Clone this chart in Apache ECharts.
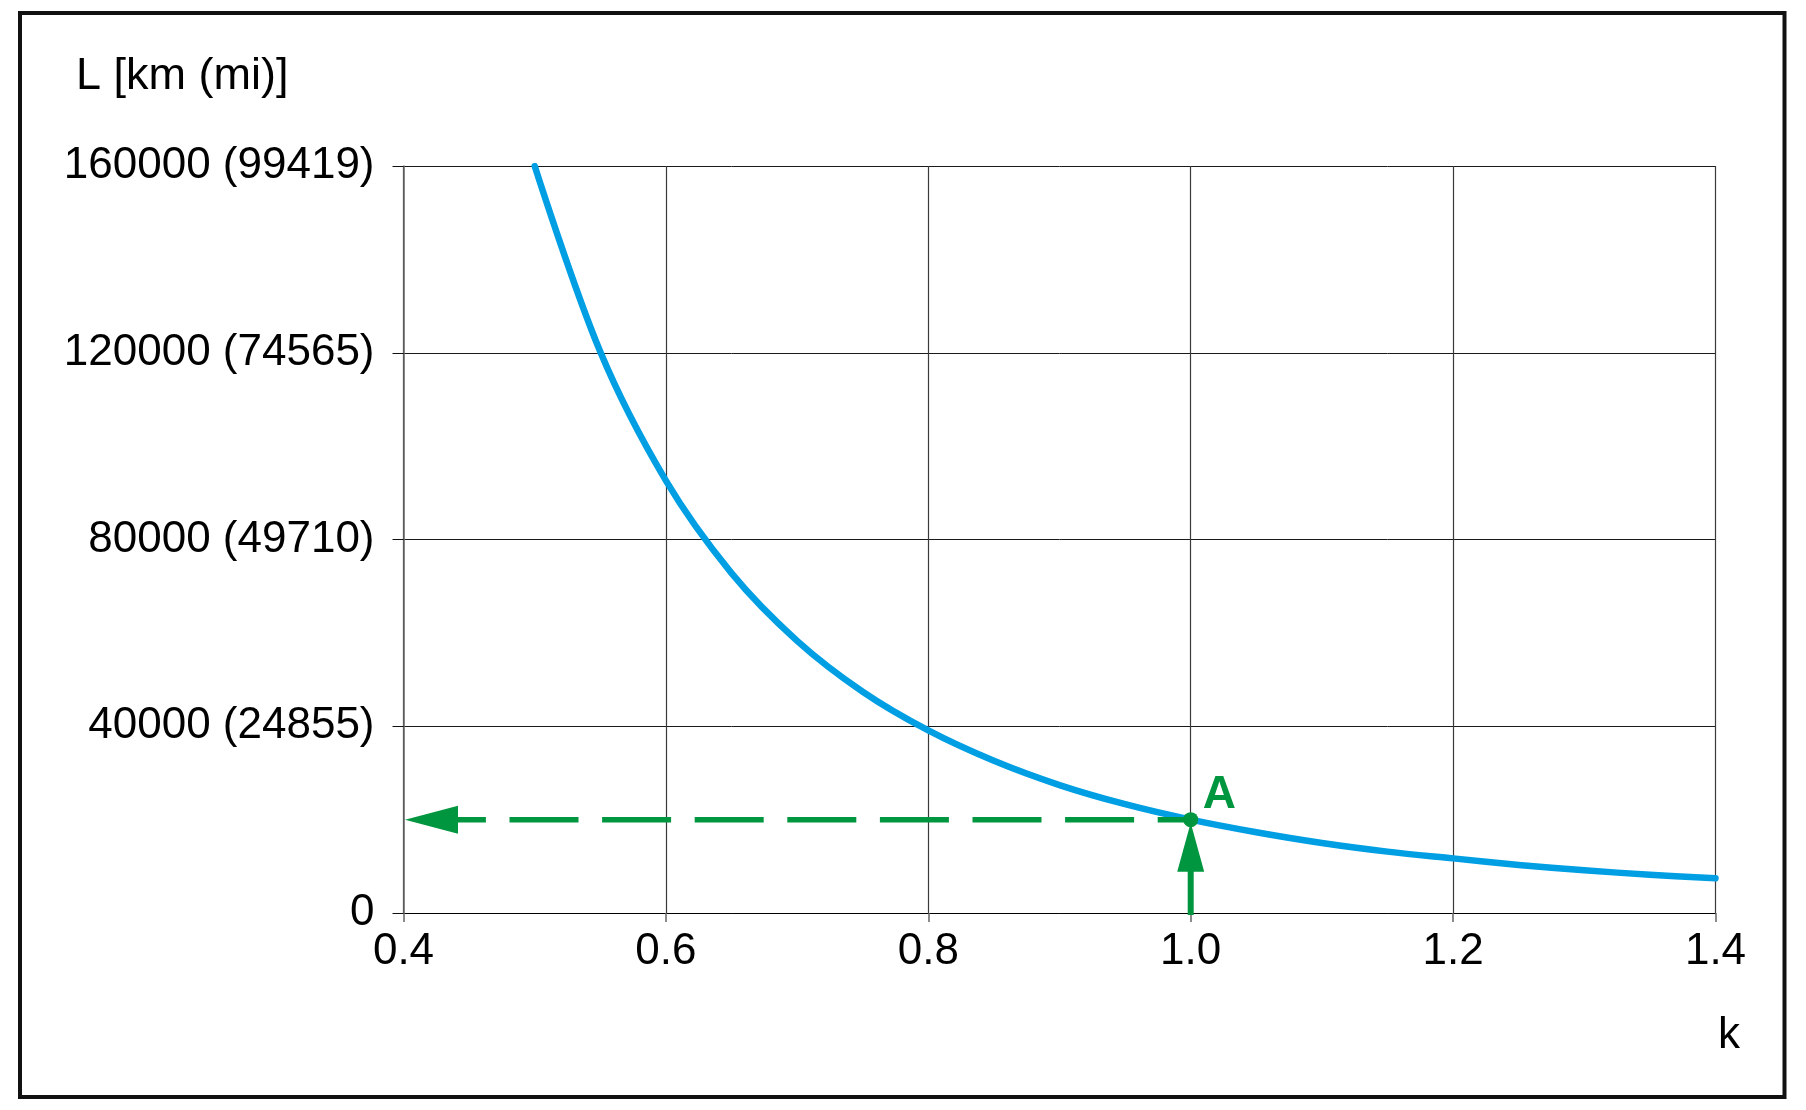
<!DOCTYPE html>
<html>
<head>
<meta charset="utf-8">
<script src="https://cdn.jsdelivr.net/npm/echarts@6/dist/echarts.min.js"></script>
<style>
  html, body { margin: 0; padding: 0; background: #ffffff; }
  #chart { width: 1806px; height: 1110px; }
</style>
</head>
<body>
<div id="chart"></div>
<script>
// ---- data ----
const kValues = [0.50, 0.55, 0.60, 0.65, 0.70, 0.75, 0.80, 0.85, 0.90, 0.95, 1.00,
                 1.05, 1.10, 1.15, 1.20, 1.25, 1.30, 1.35, 1.40];
const lValues = [160000, 120200, 92600, 72800, 58300, 47400, 39100, 32600, 27400, 23300, 20000,
                 17300, 15000, 13150, 11700, 10300, 9150, 8200, 7450];
const xTickLabels = ['0.4', '0.6', '0.8', '1.0', '1.2', '1.4'];
const yTickValues = [0, 40000, 80000, 120000, 160000];
const yTickLabels = ['0', '40000 (24855)', '80000 (49710)', '120000 (74565)', '160000 (99419)'];
const pointK = [1.0];
const pointL = [20000];
const pointName = ['A'];
const xAxisName = 'k';
const yAxisName = 'L [km (mi)]';

const FONT = '"Liberation Sans", Arial, Helvetica, sans-serif';
const BLUE = '#009fe3';
const GREEN = '#00963f';
const X_MIN = 0.4, X_MAX = 1.4, X_INT = 0.2;

const curve = kValues.map((k, i) => [k, lValues[i]]);
const points = pointK.map((k, i) => [k, pointL[i], pointName[i]]);

const chart = echarts.init(document.getElementById('chart'), null, { renderer: 'canvas' });

const option = {
  backgroundColor: '#ffffff',
  animation: false,
  grid: { left: 403.5, top: 166, width: 1312, height: 747, containLabel: false },
  xAxis: {
    type: 'value', min: X_MIN, max: X_MAX, interval: X_INT,
    axisLine: { show: true, onZero: false, lineStyle: { color: '#000', width: 1 } },
    axisTick: { show: true, length: 9, lineStyle: { color: '#666', width: 1.5 } },
    splitLine: { show: true, lineStyle: { color: '#3a3a3a', width: 1.2 } },
    axisLabel: {
      margin: 17, color: '#000', fontFamily: FONT, fontSize: 44,
      formatter: v => xTickLabels[Math.round((v - X_MIN) / X_INT)] ?? ''
    }
  },
  yAxis: {
    type: 'value', min: 0, max: 160000, interval: 40000,
    axisLine: { show: true, lineStyle: { color: '#666', width: 1.5 } },
    axisTick: { show: true, length: 11, lineStyle: { color: '#111', width: 1 } },
    splitLine: { show: true, lineStyle: { color: '#1a1a1a', width: 1 } },
    axisLabel: {
      margin: 29, color: '#000', fontFamily: FONT, fontSize: 44,
      formatter: v => { const i = yTickValues.indexOf(v); return i >= 0 ? yTickLabels[i] : ''; }
    }
  },
  graphic: [
    { type: 'rect', z: 100, silent: true,
      shape: { x: 20, y: 13, width: 1764.5, height: 1084 },
      style: { fill: 'none', stroke: '#111', lineWidth: 4 } },
    { type: 'text', z: 100, left: 76, top: 54,
      style: { text: yAxisName, fill: '#000', font: '45px ' + FONT } },
    { type: 'text', z: 100, left: 1718, top: 1014,
      style: { text: xAxisName, fill: '#000', font: '44px ' + FONT } }
  ],
  series: [
    {
      type: 'line', name: 'L', data: curve, showSymbol: false, smooth: 0.35,
      lineStyle: { color: BLUE, width: 6.5, cap: 'round', join: 'round' },
      z: 3
    },
    {
      type: 'custom', name: 'point', data: points, z: 5, clip: false,
      renderItem: function (params, api) {
        const k = api.value(0), L = api.value(1);
        const p = api.coord([k, L]);
        const left = api.coord([X_MIN, L]);
        const bottom = api.coord([k, 0]);
        const tipX = left[0] + 1.5;
        const headLen = 53, headHalf = 14;
        const vTipY = p[1] + 3, vHeadLen = 49, vHeadHalf = 13.5;
        return {
          type: 'group',
          children: [
            { type: 'line', shape: { x1: tipX, y1: p[1], x2: p[0], y2: p[1] },
              style: { stroke: GREEN, lineWidth: 5.5, lineDash: [69, 23.6], lineDashOffset: 80.7, fill: null } },
            { type: 'polygon', shape: { points: [[tipX, p[1]], [tipX + headLen, p[1] - headHalf], [tipX + headLen, p[1] + headHalf]] },
              style: { fill: GREEN } },
            { type: 'line', shape: { x1: p[0], y1: bottom[1] + 2, x2: p[0], y2: vTipY + vHeadLen - 2 },
              style: { stroke: GREEN, lineWidth: 6, fill: null } },
            { type: 'polygon', shape: { points: [[p[0], vTipY], [p[0] - vHeadHalf, vTipY + vHeadLen], [p[0] + vHeadHalf, vTipY + vHeadLen]] },
              style: { fill: GREEN } },
            { type: 'circle', shape: { cx: p[0], cy: p[1], r: 7.5 }, style: { fill: GREEN } },
            { type: 'text', x: p[0] + 12, y: p[1] - 1,
              style: { text: api.value(2), fill: GREEN, font: 'bold 46px ' + FONT, textAlign: 'left', textVerticalAlign: 'bottom' } }
          ]
        };
      }
    }
  ]
};
chart.setOption(option);
</script>
</body>
</html>
